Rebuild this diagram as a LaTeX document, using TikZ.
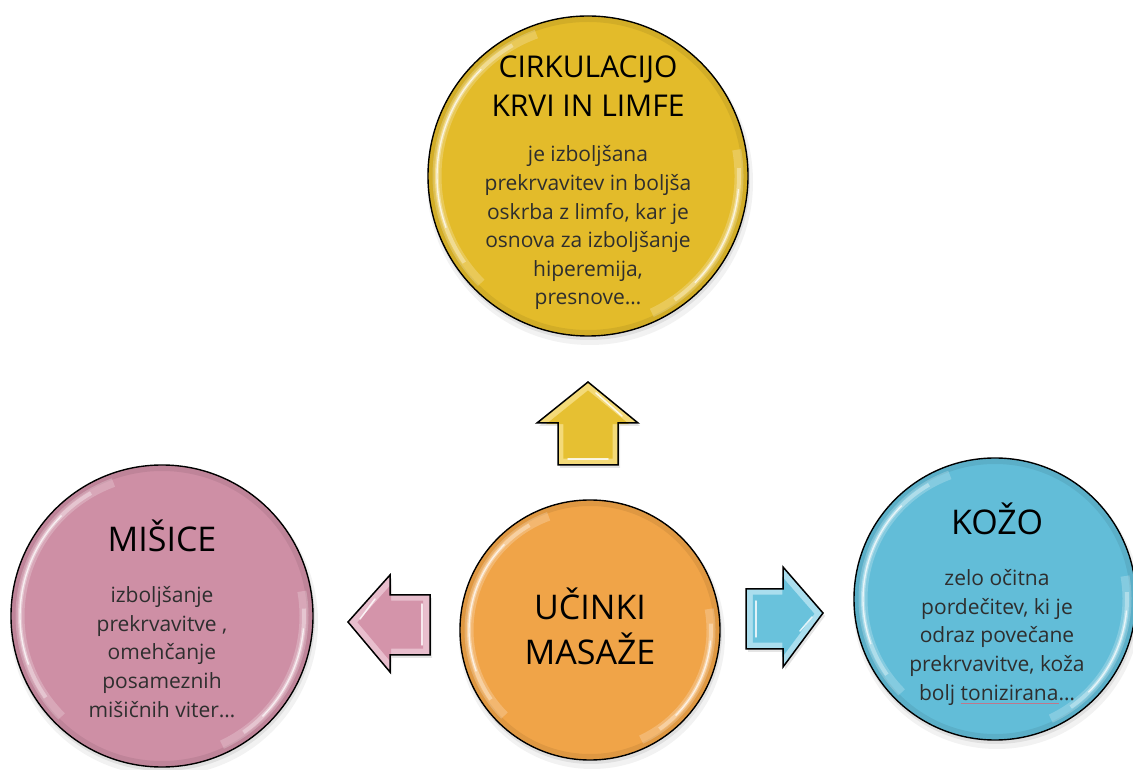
\documentclass[tikz,border=0pt]{standalone}
\usepackage{fontspec}
\setmainfont{Open Sans}
\definecolor{cyel}{RGB}{227,187,42}
\definecolor{cpink}{RGB}{206,143,165}
\definecolor{cblue}{RGB}{98,189,216}
\definecolor{corange}{RGB}{240,164,72}
\definecolor{ayel}{RGB}{230,192,50}
\definecolor{ayell}{RGB}{244,218,120}
\definecolor{apink}{RGB}{212,148,170}
\definecolor{apinkl}{RGB}{232,190,205}
\definecolor{ablue}{RGB}{105,194,220}
\definecolor{abluel}{RGB}{170,222,238}
\definecolor{sqc}{RGB}{190,120,140}
\newlength\sqw
\newcommand\squig[1]{\settowidth\sqw{#1}\rlap{\textcolor{sqc}{\rule[-4pt]{\sqw}{0.9pt}}}#1}
\newcommand\glossball[5]{%
  \fill[black,opacity=0.05] (#2+2,#3-6) circle (#4+3);
  \fill[black,opacity=0.07] (#2+1,#3-3) circle (#4+1);
  \node[ball,minimum size=2*#4,fill=#5] (#1) at (#2,#3) {};
  \draw[black,opacity=0.07,line width=5pt] (#2,#3) circle (#4-3.5);
  \draw[white,opacity=0.22,line width=9pt] ([shift={(110:#4-9)}]#2,#3) arc[start angle=110,end angle=225,radius=#4-9];
  \draw[white,opacity=0.35,line width=4pt] ([shift={(120:#4-9)}]#2,#3) arc[start angle=120,end angle=215,radius=#4-9];
  \draw[white,opacity=0.7,line width=1.4pt] ([shift={(135:#4-9)}]#2,#3) arc[start angle=135,end angle=200,radius=#4-9];
  \draw[white,opacity=0.22,line width=9pt] ([shift={(-65:#4-9)}]#2,#3) arc[start angle=-65,end angle=10,radius=#4-9];
  \draw[white,opacity=0.35,line width=4pt] ([shift={(-55:#4-9)}]#2,#3) arc[start angle=-55,end angle=3,radius=#4-9];
  \draw[white,opacity=0.7,line width=1.4pt] ([shift={(-45:#4-9)}]#2,#3) arc[start angle=-45,end angle=-5,radius=#4-9];
}
\begin{document}
\begin{tikzpicture}[x=1pt,y=1pt,
  ball/.style={circle,draw=black,line width=1.4pt,inner sep=0pt},
  ttl/.style={font=\fontsize{30}{39}\selectfont,align=center,text=black,inner sep=0pt,anchor=base},
  bigttl/.style={font=\fontsize{34}{45}\selectfont,align=center,text=black,inner sep=0pt,anchor=base},
  body/.style={font=\fontsize{21}{28.6}\selectfont,align=center,text=black!82,inner sep=0pt,anchor=base},
  arrowline/.style={draw=black,line width=1.5pt,line join=miter},
  hl/.style={white,opacity=0.8,line width=1.5pt,line cap=round}]
\useasboundingbox (0,0) rectangle (1133,769);
\fill[white] (0,0) rectangle (1133,769);

% balls
\glossball{cir}{588}{593}{160}{cyel}
\glossball{mis}{162}{153}{151}{cpink}
\glossball{koz}{995}{170}{141}{cblue}
\glossball{uci}{590}{139}{130}{corange}

% up arrow
\fill[black,opacity=0.1] (560,301) -- (560,343) -- (539,343) -- (590,384) -- (640,343) -- (620,343) -- (620,301) -- cycle;
\fill[ayell] (558,304) -- (558,346) -- (537,346) -- (588,387) -- (638,346) -- (618,346) -- (618,304) -- cycle;
\fill[ayel,shift={(588,340)},scale=0.82,shift={(-588,-340)}] (558,304) -- (558,346) -- (537,346) -- (588,387) -- (638,346) -- (618,346) -- (618,304) -- cycle;
\draw[hl] (596,376) -- (622,353);
\draw[hl] (568,310) -- (608,310);
\draw[arrowline] (558,304) -- (558,346) -- (537,346) -- (588,387) -- (638,346) -- (618,346) -- (618,304) -- cycle;

% left arrow
\fill[black,opacity=0.1] (432,171) -- (392,171) -- (392,191) -- (350,144) -- (392,94) -- (392,111) -- (432,111) -- cycle;
\fill[apinkl] (430,174) -- (390,174) -- (390,194) -- (348,147) -- (390,97) -- (390,114) -- (430,114) -- cycle;
\fill[apink,shift={(395,146)},scale=0.8,shift={(-395,-146)}] (430,174) -- (390,174) -- (390,194) -- (348,147) -- (390,97) -- (390,114) -- (430,114) -- cycle;
\draw[hl] (375,170) -- (360,150);
\draw[hl] (422,165) -- (422,124);
\draw[arrowline] (430,174) -- (390,174) -- (390,194) -- (348,147) -- (390,97) -- (390,114) -- (430,114) -- cycle;

% right arrow
\fill[black,opacity=0.1] (748,177) -- (785,177) -- (785,199) -- (825,153) -- (785,99) -- (785,117) -- (748,117) -- cycle;
\fill[abluel] (746,180) -- (783,180) -- (783,202) -- (823,156) -- (783,102) -- (783,120) -- (746,120) -- cycle;
\fill[ablue,shift={(780,152)},scale=0.8,shift={(-780,-152)}] (746,180) -- (783,180) -- (783,202) -- (823,156) -- (783,102) -- (783,120) -- (746,120) -- cycle;
\draw[hl] (756,168) -- (756,132);
\draw[hl] (800,138) -- (812,152);
\draw[arrowline] (746,180) -- (783,180) -- (783,202) -- (823,156) -- (783,102) -- (783,120) -- (746,120) -- cycle;

% texts (anchor base = baseline of last line)
\node[ttl] (cirT) at (588,652) {CIRKULACIJO\\KRVI IN LIMFE};
\node[body] (cirB) at (588,464) {je izboljšana\\prekrvavitev in boljša\\oskrba z limfo, kar je\\osnova za izboljšanje\\hiperemija,\\presnove…};
\node[bigttl] (misT) at (162,217) {MIŠICE};
\node[body] (misB) at (162,52) {izboljšanje\\prekrvavitve ,\\omehčanje\\posameznih\\mišičnih viter…};
\node[bigttl] (kozT) at (997,234) {KOŽO};
\node[body] (kozB) at (997,69) {zelo očitna\\pordečitev, ki je\\odraz povečane\\prekrvavitve, koža\\bolj \squig{tonizirana}…};
\node[bigttl] (uciT) at (590,104) {UČINKI\\MASAŽE};
\end{tikzpicture}
\end{document}
